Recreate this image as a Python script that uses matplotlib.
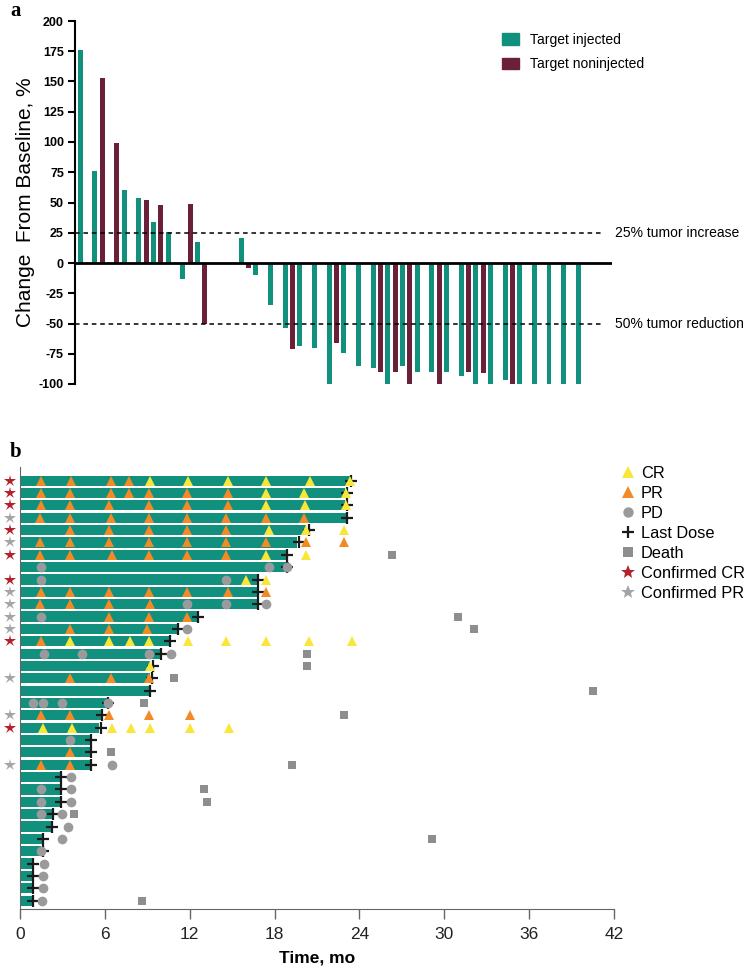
import matplotlib.pyplot as plt
from matplotlib.lines import Line2D
from matplotlib.patches import Patch

plt.rcParams['font.family'] = ['Liberation Sans', 'DejaVu Sans']

# panel a: change from baseline, bar slots and values
inj_pos = [0, 2, 6, 8, 10, 12, 14, 16, 22, 24, 26, 28, 30, 32, 34, 36, 38, 40,
           42, 44, 46, 48, 50, 52, 54, 56, 58, 60, 62, 64, 66, 68]
inj_val = [176, 76, 60, 54, 34, 26, -13, 17, 21, -10, -35, -54, -69, -70, -100, -74, -85, -87,
           -100, -85, -90, -90, -90, -93, -100, -100, -97, -100, -100, -100, -100, -100]
non_pos = [3, 5, 9, 11, 15, 17, 23, 29, 35, 41, 43, 45, 49, 53, 55, 59]
non_val = [153, 99, 52, 48, 49, -50, -4, -71, -66, -90, -90, -100, -100, -90, -91, -100]
a_ticks = list(range(-100, 201, 25))

# panel b: swimmer plot, one entry per patient (top to bottom)
bar_len = [23.3, 23.0, 23.0, 23.1, 20.2, 19.6, 18.8, 19.0, 16.8, 16.8, 16.8, 12.5, 11.1, 10.5,
           9.9, 9.2, 9.2, 9.2, 6.2, 5.8, 5.6, 5.0, 5.0, 5.0, 2.9, 2.9, 2.9, 2.3, 2.2, 1.6,
           1.5, 0.9, 0.9, 0.9, 0.9]
cr_times = [[9.2, 11.9, 14.7, 17.4, 20.5, 23.3], [17.4, 20.1, 23.05], [17.4, 20.15, 23.05], [],
            [17.6, 20.2, 22.9], [], [17.4, 20.2], [], [16.0, 17.4], [], [], [], [],
            [3.5, 6.3, 7.75, 9.15, 11.85, 14.6, 17.4, 20.4, 23.5], [], [9.2], [], [], [], [],
            [1.6, 3.7, 6.5, 7.85, 9.2, 12.0, 14.8], [], [], [], [], [], [], [], [], [], [],
            [], [], [], []]
pr_times = [[1.5, 3.6, 6.4, 7.7], [1.5, 3.5, 6.4, 7.7, 9.1, 11.8, 14.7],
            [1.5, 3.5, 6.3, 9.1, 11.8, 14.7], [1.4, 3.5, 6.4, 9.1, 11.8, 14.6, 17.4, 20.1],
            [3.5, 6.3, 9.1, 11.8, 14.6], [1.4, 3.5, 6.3, 9.1, 11.8, 14.6, 17.4, 20.2, 22.9],
            [1.4, 3.5, 6.5, 9.1, 11.8, 14.6], [], [], [1.5, 3.5, 6.3, 9.1, 11.8, 14.7, 17.4],
            [1.4, 3.5, 6.3, 9.2], [6.3, 9.1, 11.8], [3.5, 6.3, 9.0], [1.5], [], [],
            [3.5, 6.4, 9.1], [], [], [1.5, 3.5, 6.3, 9.1, 12.0], [], [], [3.5], [1.5, 3.5],
            [], [], [], [], [], [], [], [], [], [], []]
pd_times = [[], [], [], [], [], [], [], [1.5, 17.6, 18.9], [1.5, 14.6], [], [11.8, 14.6, 17.4],
            [1.5], [11.8], [], [1.7, 4.4, 9.1, 10.7], [], [], [], [0.9, 1.6, 3.0, 6.25], [], [],
            [3.5], [], [6.5], [3.6], [1.5, 3.6], [1.5, 3.6], [1.5, 3.0], [3.4], [3.0], [1.5],
            [1.7], [1.6], [1.6], [1.55]]
last_dose = [23.4, 23.15, 23.15, 23.1, 20.4, 19.7, 18.9, 18.9, 16.8, 16.8, 16.8, 12.6, 11.15,
             10.6, 10.0, 9.4, 9.3, 9.2, 6.2, 5.8, 5.7, 5.0, 5.0, 5.0, 2.9, 2.9, 2.9, 2.3, 2.25,
             1.6, 1.65, 0.9, 0.95, 0.9, 0.9]
death = [None, None, None, None, None, None, 26.3, None, None, None, None, 31.0, 32.1, None,
         20.3, 20.3, 10.9, 40.5, 8.8, 22.9, None, None, 6.4, 19.2, None, 13.0, 13.2, 3.85,
         None, 29.1, None, None, None, None, 8.6]
confirmed = ['CR', 'CR', 'CR', 'PR', 'CR', 'PR', 'CR', '', 'CR', 'PR', 'PR', 'PR', 'PR', 'CR',
             '', '', 'PR', '', '', 'PR', 'CR', '', '', 'PR', '', '', '', '', '', '', '', '',
             '', '', '']
b_ticks = [0, 6, 12, 18, 24, 30, 36, 42]

TEAL = '#12907e'
MAROON = '#6a2038'
YELLOW = '#f8e639'
ORANGE = '#f28a25'
GREY = '#9a9a9c'
SQ = '#8e8e90'
RED = '#b3222a'

W, H = 747, 969
fig = plt.figure(figsize=(W / 100, H / 100), dpi=100)

# ---- panel a
ax1 = fig.add_axes([75 / W, 1 - 384 / H, (612 - 75) / W, (384 - 21) / H])
ax1.bar(inj_pos, inj_val, width=0.68, color=TEAL, label='Target injected')
ax1.bar(non_pos, non_val, width=0.68, color=MAROON, label='Target noninjected')
ax1.set_xlim(-0.7, 72.6)
ax1.set_ylim(-100, 200)
ax1.axhline(0, color='black', lw=2)
ax1.axhline(25, xmax=(604 - 75) / (612 - 75), color='black', lw=1.1, ls=(0, (3, 2.5)))
ax1.axhline(-50, xmax=(604 - 75) / (612 - 75), color='black', lw=1.1, ls=(0, (3, 2.5)))
ax1.text(1.006, 25, '25% tumor increase', transform=ax1.get_yaxis_transform(),
         va='center', ha='left', fontsize=10)
ax1.text(1.006, -50, '50% tumor reduction', transform=ax1.get_yaxis_transform(),
         va='center', ha='left', fontsize=10)
for s in ['top', 'right', 'bottom']:
    ax1.spines[s].set_visible(False)
ax1.spines['left'].set_linewidth(1.5)
ax1.set_xticks([])
ax1.set_yticks(a_ticks)
ax1.set_yticklabels([str(t) for t in a_ticks], fontweight='bold', fontsize=9)
ax1.tick_params(axis='y', length=5, width=1.5, pad=3)
ax1.set_ylabel('Change  From Baseline, %', fontsize=15, labelpad=3)
ax1.legend(handles=[Patch(color=TEAL), Patch(color=MAROON)],
           labels=['Target injected', 'Target noninjected'],
           loc='upper left', bbox_to_anchor=(502 / W, 1 - 33 / H), bbox_transform=fig.transFigure,
           frameon=False, fontsize=10, handlelength=1.2, handleheight=0.9,
           handletextpad=0.8, labelspacing=0.75, borderaxespad=0, borderpad=0)

# ---- panel b
ax2 = fig.add_axes([20 / W, 1 - 909 / H, (614 - 20) / W, (909 - 467) / H])
rows = list(range(len(bar_len)))
ax2.barh(rows, bar_len, height=0.82, color=TEAL, zorder=1)


def collect(lists):
    xs, ys = [], []
    for r, vals in enumerate(lists):
        for v in vals:
            xs.append(v)
            ys.append(r)
    return xs, ys


ax2.plot(last_dose, rows, ls='none', marker='+', ms=9, mew=1.6, color='#1a1a1a', zorder=2)
x, y = collect(pd_times)
ax2.plot(x, y, ls='none', marker='o', ms=7, mew=0, color=GREY, zorder=3)
x, y = collect(pr_times)
ax2.plot(x, y, ls='none', marker='^', ms=7.5, mew=0, color=ORANGE, zorder=4)
x, y = collect(cr_times)
ax2.plot(x, y, ls='none', marker='^', ms=7.5, mew=0, color=YELLOW, zorder=4)
dx = [d for d in death if d is not None]
dy = [r for r, d in enumerate(death) if d is not None]
ax2.plot(dx, dy, ls='none', marker='s', ms=5.5, mew=0, color=SQ, zorder=3)
for r, c in enumerate(confirmed):
    if c:
        ax2.plot(-0.72, r, marker='*', ms=9, mew=0, color=RED if c == 'CR' else '#a5a5a7',
                 clip_on=False, zorder=5)

ax2.set_xlim(0, 42)
ax2.set_ylim(34.68, -1.11)
ax2.set_yticks([])
ax2.set_xticks(b_ticks)
ax2.set_xticklabels([str(t) for t in b_ticks], fontsize=12.5, color='#222222')
ax2.tick_params(axis='x', length=7, width=1, color='#666666', pad=6)
for s in ['top', 'right']:
    ax2.spines[s].set_visible(False)
for s in ['left', 'bottom']:
    ax2.spines[s].set_color('#666666')
ax2.set_xlabel('Time, mo', fontsize=12.5, fontweight='bold', labelpad=6)

handles = [
    Line2D([], [], ls='none', marker='^', ms=8, mew=0, color=YELLOW),
    Line2D([], [], ls='none', marker='^', ms=8, mew=0, color=ORANGE),
    Line2D([], [], ls='none', marker='o', ms=7.5, mew=0, color=GREY),
    Line2D([], [], ls='none', marker='+', ms=9, mew=1.6, color='#1a1a1a'),
    Line2D([], [], ls='none', marker='s', ms=6.5, mew=0, color=SQ),
    Line2D([], [], ls='none', marker='*', ms=10, mew=0, color=RED),
    Line2D([], [], ls='none', marker='*', ms=10, mew=0, color='#a5a5a7'),
]
labels = ['CR', 'PR', 'PD', 'Last Dose', 'Death', 'Confirmed CR', 'Confirmed PR']
ax2.legend(handles=handles, labels=labels, loc='upper left',
           bbox_to_anchor=(621 / W, 1 - 466 / H), bbox_transform=fig.transFigure,
           frameon=False, fontsize=11.8, handlelength=0.8, handletextpad=0.4,
           labelspacing=0.3, borderaxespad=0, borderpad=0)

fig.text(10 / W, 1 - 11 / H, 'a', fontsize=15, fontweight='bold', family='Liberation Serif',
         va='center', ha='left')
fig.text(10 / W, 1 - 452 / H, 'b', fontsize=15, fontweight='bold', family='Liberation Serif',
         va='center', ha='left')

fig.savefig('out.png', dpi=100)
